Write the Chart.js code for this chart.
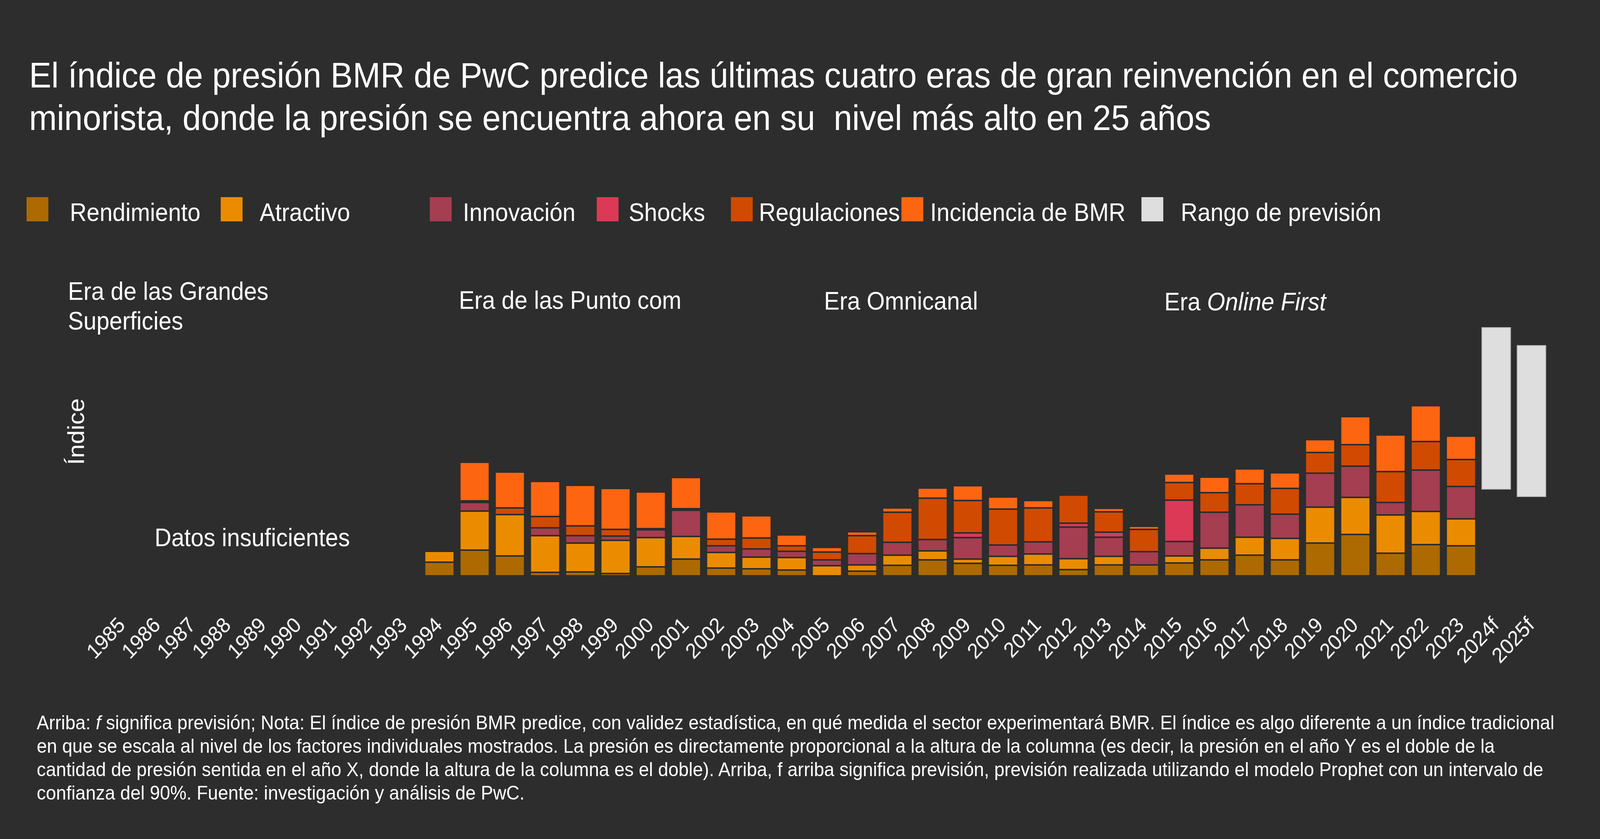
<!DOCTYPE html>
<html lang="es">
<head>
<meta charset="utf-8">
<title>Índice de presión BMR de PwC</title>
<script src="https://cdn.jsdelivr.net/npm/chart.js@4.4.1/dist/chart.umd.min.js"></script>
<style>
  html, body { margin:0; padding:0; overflow:hidden; background:#2d2d2d; }
  #stage { position:fixed; left:0; top:0; width:100vw; height:100vh; overflow:hidden; background:#2d2d2d; }
  #page { position:absolute; left:0; top:0; width:4400px; height:2149px; transform-origin:0 0; background:#2d2d2d;
          font-family:'Liberation Sans', Arial, Helvetica, sans-serif; color:#ffffff; }
  #c { position:absolute; left:0; top:0; width:4400px; height:2149px; }
  .t { position:absolute; white-space:pre; }
  .sq { position:absolute; width:60px; height:62px; }
</style>
</head>
<body>
<div id="stage"><div id="page">
<canvas id="c" width="4400" height="2149"></canvas>

<div class="t" style="left:80px;top:138px;font-size:91.5px;line-height:109px;">El índice de presión BMR de PwC predice las últimas cuatro eras de gran reinvención en el comercio
minorista, donde la presión se encuentra ahora en su  nivel más alto en 25 años</div>

<div id="legend"></div>

<div class="t" style="left:187px;top:708px;font-size:64px;line-height:76px;">Era de las Grandes
Superficies</div>
<div class="t" style="left:1262px;top:737px;font-size:64px;line-height:64px;">Era de las Punto com</div>
<div class="t" style="left:2266px;top:739px;font-size:64px;line-height:64px;">Era Omnicanal</div>
<div class="t" style="left:3202px;top:741px;font-size:64px;line-height:64px;">Era <i>Online First</i></div>
<div class="t" style="left:425px;top:1345px;font-size:64px;line-height:64px;">Datos insuficientes</div>
<div class="t" id="ylab" style="left:0px;top:0px;font-size:64px;line-height:64px;transform-origin:0 0;">Índice</div>

<div class="t" style="left:101px;top:1821px;font-size:50.4px;line-height:60px;">Arriba: <i>f</i> significa previsión; Nota: El índice de presión BMR predice, con validez estadística, en qué medida el sector experimentará BMR. El índice es algo diferente a un índice tradicional
en que se escala al nivel de los factores individuales mostrados. La presión es directamente proporcional a la altura de la columna (es decir, la presión en el año Y es el doble de la
cantidad de presión sentida en el año X, donde la altura de la columna es el doble). Arriba, f arriba significa previsión, previsión realizada utilizando el modelo Prophet con un intervalo de
confianza del 90%. Fuente: investigación y análisis de PwC.</div>
</div></div>

<script>
// ---------- DATA ----------
const years = ['1985','1986','1987','1988','1989','1990','1991','1992','1993','1994','1995','1996','1997','1998','1999',
  '2000','2001','2002','2003','2004','2005','2006','2007','2008','2009','2010','2011','2012','2013','2014','2015',
  '2016','2017','2018','2019','2020','2021','2022','2023','2024f','2025f'];

const N9 = [null,null,null,null,null,null,null,null,null]; // 1985-1993: datos insuficientes
const NF = [null,null];                                   // 2024f, 2025f

//                      1994 1995 1996 1997 1998 1999 2000 2001 2002 2003 2004 2005 2006 2007 2008 2009 2010 2011 2012 2013 2014 2015 2016 2017 2018 2019 2020 2021 2022 2023
const rendimiento  = [...N9, 3.5, 6.6, 5.1, 0.9, 1.0, 0.6, 2.3, 4.3, 2.0, 1.8, 1.5, null,1.2, 2.7, 4.1, 3.2, 2.7, 2.8, 1.6, 2.8, 2.8, 3.3, 4.1, 5.3, 4.1, 8.4, 10.6,5.8, 8.0, 7.7, ...NF];
const atractivo    = [...N9, 2.8, 10.0,10.6,9.4, 7.4, 8.5, 7.5, 5.8, 4.0, 3.0, 3.2, 2.6, 1.6, 2.6, 2.3, 1.1, 2.3, 2.8, 2.8, 2.2, null,1.8, 3.0, 4.6, 5.5, 9.2, 9.5, 9.8, 8.5, 6.9, ...NF];
const innovacion   = [...N9, null,2.2, null,2.0, 1.9, 1.1, 2.0, 6.7, 1.7, 2.1, 1.6, 1.5, 2.9, 3.3, 2.9, 5.5, 2.9, 3.1, 8.1, 4.9, 3.4, 3.7, 9.2, 8.3, 6.2, 8.7, 8.0, 3.2, 10.6,8.3, ...NF];
const shocks       = [...N9, null,null,null,null,null,null,null,null,null,null,null,null,null,null,null,1.2, null,null,1.0, 1.3, null,10.6,null,null,null,null,null,null,null,null, ...NF];
const regulaciones = [...N9, null,0.4, 1.7, 2.9, 2.5, 1.7, 0.3, 0.4, 1.7, 2.8, 1.4, 2.0, 4.6, 7.7, 10.6,8.3, 9.2, 8.7, 7.2, 5.2, 5.7, 4.5, 5.0, 5.4, 6.6, 5.3, 5.5, 7.9, 7.3, 6.9, ...NF];
const incidencia   = [...N9, null,9.9, 9.2, 9.0, 10.4,10.5,9.4, 8.0, 7.0, 5.7, 2.8, 1.2, 1.0, 1.1, 2.6, 3.8, 3.1, 1.9, null,0.9, 0.8, 2.2, 4.0, 3.8, 4.0, 3.3, 7.2, 9.4, 9.2, 6.0, ...NF];
const rangoPrevision = [...N9, ...Array(30).fill(null), [22.1, 63.7], [20.2, 59.1]];

const seriesNames  = ['Rendimiento','Atractivo','Innovación','Shocks','Regulaciones','Incidencia de BMR','Rango de previsión'];
const seriesColors = ['#ad6a00','#eb8c00','#a43e50','#db3955','#d04a02','#fe6511','#dedede'];

// ---------- LAYOUT (not data) ----------
const BG = '#2d2d2d';
const legendSquareX = [73, 607, 1182, 1641, 2010, 2479, 3139];
const legendTextX   = [192, 714, 1273, 1729, 2087, 2558, 3247];

// fit the 4400x2149 design onto the whole viewport
const page = document.getElementById('page');
const sx = window.innerWidth / 4400, sy = window.innerHeight / 2149;
page.style.transform = 'scale(' + sx + ',' + sy + ')';

// ---------- CHART ----------
const values = [rendimiento, atractivo, innovacion, shocks, regulaciones, incidencia, rangoPrevision];
const datasets = values.map((d, i) => ({
  label: seriesNames[i],
  data: d,
  backgroundColor: seriesColors[i],
  borderColor: i === 6 ? '#b4b4b4' : BG,
  borderWidth: 2,
  borderSkipped: false,
  barPercentage: 0.84,
  categoryPercentage: 1.0
}));

const chart = new Chart(document.getElementById('c'), {
  type: 'bar',
  data: { labels: years, datasets },
  options: {
    responsive: false,
    animation: false,
    devicePixelRatio: 1,
    layout: { padding: { left: 288, right: 140, top: 775, bottom: 424 } },
    plugins: { legend: { display: false }, tooltip: { enabled: false } },
    scales: {
      x: {
        stacked: true,
        grid: { display: false, drawTicks: false },
        border: { display: false },
        ticks: {
          color: '#ffffff',
          font: { family: 'Liberation Sans', size: 55 },
          minRotation: 45, maxRotation: 45,
          autoSkip: false,
          padding: 95
        },
        afterFit: (s) => { s.height = 250; }
      },
      y: { stacked: true, display: false, min: 0, max: 70 }
    }
  }
});

// ---------- HTML LEGEND built from the chart's datasets ----------
const lg = document.getElementById('legend');
chart.data.datasets.forEach((ds, i) => {
  const sq = document.createElement('div');
  sq.className = 'sq';
  sq.style.left = legendSquareX[i] + 'px';
  sq.style.top = '505px';
  sq.style.background = ds.backgroundColor;
  lg.appendChild(sq);
  const tx = document.createElement('div');
  tx.className = 't';
  tx.style.left = legendTextX[i] + 'px';
  tx.style.top = '512px';
  tx.style.fontSize = '64px';
  tx.style.lineHeight = '64px';
  tx.textContent = ds.label;
  lg.appendChild(tx);
});

// rotated axis title "Índice", centred at (209, 1105)
const yl = document.getElementById('ylab');
const w = yl.offsetWidth, h = yl.offsetHeight;
yl.style.left = (209 - h / 2) + 'px';
yl.style.top = (1105 + w / 2) + 'px';
yl.style.transform = 'rotate(-90deg)';
</script>
</body>
</html>
